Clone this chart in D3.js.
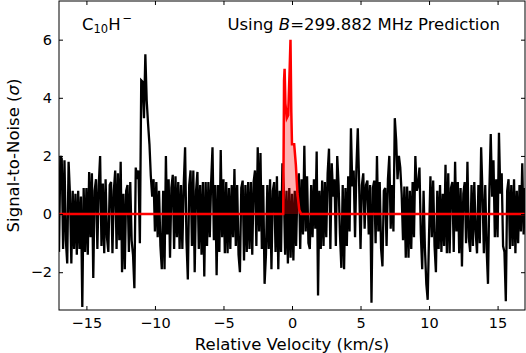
<!DOCTYPE html>
<html>
<head>
<meta charset="utf-8">
<script src="https://cdn.jsdelivr.net/npm/d3@7"></script>
<style>
body { margin: 0; background: #fff; }
text { font-family: "DejaVu Sans", sans-serif; fill: #000; }
</style>
</head>
<body>
<div id="chart"></div>
<script>
// channel grid of the observed spectrum (km/s)
var velStart = -17, velStep = 0.1;
// signal-to-noise per channel
var snr = [
  -1.3, 2.0, 1.9, -1.2, 1.85, -0.9, -1.7, 1.8, 0.7, -1.7,
  0.8, -1.2, 0.7, -1.4, 0.8, -1.2, 0.6, -3.2, 0.9, -1.3,
  0.9, -1.4, 1.45, -0.8, 1.4, -2.2, 0.8, 1.2, -1.2, 1.0,
  2.0, -1.1, 1.05, -1.35, 1.2, -0.8, -1.3, 1.0, 1.1, -1.35,
  0.8, 1.5, -1.2, 1.4, -0.9, 1.8, -2.0, 0.7, -1.9, 0.8,
  1.0, -1.3, 1.1, -0.9, -1.4, -2.55, 1.6, 1.2, 1.5, -1.0,
  4.6, 4.55, 3.3, 5.5, 3.9, 3.1, 2.4, 1.3, 0.6, 1.2,
  -0.6, 1.1, -0.8, 0.8, -1.1, -1.9, 0.8, -1.9, 2.0, -0.7,
  1.2, -1.5, 0.9, 1.35, -1.2, 1.3, -0.8, 1.1, -1.2, 1.0,
  -1.2, 1.0, 2.3, -0.9, -2.25, 1.0, 1.5, -1.1, 1.5, -2.0,
  0.8, 1.45, -1.2, 1.0, -1.4, 1.1, -2.15, 1.1, -1.1, 1.1,
  -0.8, 1.1, 2.3, -0.9, 1.0, -2.1, 1.0, -1.3, 2.2, -0.8,
  1.2, -1.35, 1.1, -1.35, 0.9, -1.2, 1.0, -0.8, 1.55, -1.1,
  1.0, -1.4, -2.0, 0.9, 1.15, -1.6, 1.0, -1.3, 1.1, -1.2,
  1.1, -1.4, 1.1, 1.5, -1.1, 2.3, -0.6, 2.1, -1.2, 1.0,
  -2.4, -1.4, 1.0, -1.2, 1.2, -1.9, 0.8, 1.1, -1.3, 1.3,
  -1.9, 0.8, -1.3, 1.75, 0.9, -1.4, 0.8, -1.7, 0.9, -1.5,
  0.7, -1.6, 0.8, -1.1, 1.0, 1.4, -1.2, 1.2, -0.7, 2.35,
  -0.6, 1.3, -1.0, -1.2, 1.0, -0.8, 1.2, -0.5, 2.15, -2.8,
  0.8, -1.2, 1.15, -1.1, 1.1, -0.8, 1.4, 2.25, -1.2, 1.75,
  0.6, 1.2, -1.1, 2.0, 1.0, -0.7, -1.85, 1.0, -1.9, 0.9,
  -1.1, 1.3, -0.6, 2.95, 0.95, 1.5, -0.8, 1.6, 2.95, 1.0,
  -1.2, 1.0, 1.4, -0.5, 1.0, 1.15, -0.7, 1.0, -3.05, 0.9,
  1.15, -1.0, 2.0, -0.6, 1.1, -1.2, -1.8, 0.8, 0.9, -1.1,
  1.2, 2.0, -0.5, 1.0, -0.6, 3.3, 2.55, 1.2, 2.0, 1.6,
  0.7, -0.9, 0.95, -1.5, 0.95, -1.5, 0.8, -1.2, 1.1, -0.8,
  2.0, 0.8, 1.0, 1.6, -0.7, -1.9, 0.8, -1.2, -2.4, -2.95,
  -0.7, 1.3, -0.8, 1.15, -1.1, -2.0, 0.8, -1.2, 1.0, -1.3,
  0.7, -1.1, 1.7, -1.35, 1.4, -1.35, 0.9, 1.1, -1.3, 1.8,
  -0.6, 1.1, -1.35, 0.9, -1.8, 0.7, 1.1, -1.0, 1.8, -0.8,
  -1.3, 1.0, -1.1, 1.1, -0.6, -1.35, 1.0, -1.0, 2.3, 0.7,
  -1.35, 1.0, -1.2, -2.4, 0.8, 2.75, 0.6, 1.85, -0.8, 1.2,
  -0.8, 2.8, 0.7, 1.4, -1.1, -1.3, -3.0, 0.8, 1.2, -1.2,
  1.0, -1.1, 1.2, -1.35, 0.8, -1.0, 1.0, -0.6, 1.75, -0.7,
  0.9
];
// predicted line profile
var modelVel = [-17, -0.64, -0.58, -0.54, -0.48, -0.38, -0.28, -0.17, -0.11, -0.05, 0.0, 0.16, 0.28, 0.4, 0.53, 0.66, 17];
var modelSnr = [0, 0, 4.6, 5.0, 3.8, 3.3, 3.4, 5.0, 6.0, 3.5, 2.4, 2.4, 1.7, 0.7, 0.15, 0, 0];

var xTicks = [-15, -10, -5, 0, 5, 10, 15];
var yTicks = [-2, 0, 2, 4, 6];

var W = 526, H = 353;
var margin = {top: 1, right: 1, bottom: 43, left: 59};
var width = W - margin.left - margin.right;
var height = H - margin.top - margin.bottom;

var svg = d3.select("#chart").append("svg")
    .attr("width", W)
    .attr("height", H);

var g = svg.append("g")
    .attr("transform", "translate(" + margin.left + "," + margin.top + ")");

var x = d3.scaleLinear().domain([-17, 17]).range([0, width]);
var y = d3.scaleLinear().domain([-3.3, 7.33]).range([height, 0]);

g.append("clipPath").attr("id", "clip")
    .append("rect").attr("width", width).attr("height", height);

var plot = g.append("g").attr("clip-path", "url(#clip)");

var spec = snr.map(function(d, i) { return {v: velStart + i * velStep, s: d}; });
var model = modelVel.map(function(d, i) { return {v: d, s: modelSnr[i]}; });

plot.append("path")
    .datum(spec)
    .attr("fill", "none")
    .attr("stroke", "#000")
    .attr("stroke-width", 2.3)
    .attr("stroke-linejoin", "miter")
    .attr("d", d3.line()
        .x(function(d) { return x(d.v); })
        .y(function(d) { return y(d.s); }));

plot.append("path")
    .datum(model)
    .attr("fill", "red")
    .attr("fill-opacity", 0.3)
    .attr("d", d3.area()
        .x(function(d) { return x(d.v); })
        .y0(y(0))
        .y1(function(d) { return y(d.s); }));

plot.append("path")
    .datum(model)
    .attr("fill", "none")
    .attr("stroke", "red")
    .attr("stroke-width", 2.5)
    .attr("d", d3.line()
        .x(function(d) { return x(d.v); })
        .y(function(d) { return y(d.s); }));

// axes, ticks inward on all sides
var tickLen = 4;
g.append("g")
    .attr("transform", "translate(0," + height + ")")
    .call(d3.axisBottom(x).tickValues(xTicks).tickSizeInner(-tickLen).tickSizeOuter(0)
        .tickPadding(8).tickFormat(d3.format("")))
    .call(function(a) { a.select(".domain").remove(); })
    .selectAll("text").attr("font-size", 14.5);

g.append("g")
    .call(d3.axisTop(x).tickValues(xTicks).tickSizeInner(-tickLen).tickSizeOuter(0).tickFormat(""))
    .call(function(a) { a.select(".domain").remove(); });

g.append("g")
    .call(d3.axisLeft(y).tickValues(yTicks).tickSizeInner(-tickLen).tickSizeOuter(0)
        .tickPadding(7).tickFormat(d3.format("")))
    .call(function(a) { a.select(".domain").remove(); })
    .selectAll("text").attr("font-size", 14.5);

g.append("g")
    .attr("transform", "translate(" + width + ",0)")
    .call(d3.axisRight(y).tickValues(yTicks).tickSizeInner(-tickLen).tickSizeOuter(0).tickFormat(""))
    .call(function(a) { a.select(".domain").remove(); });

g.selectAll(".tick line").attr("stroke", "#000").attr("stroke-width", 1);
g.selectAll(".tick text").attr("font-family", "DejaVu Sans").attr("fill", "#000");

g.append("rect")
    .attr("width", width).attr("height", height)
    .attr("fill", "none").attr("stroke", "#000").attr("stroke-width", 1);

// axis labels
svg.append("text")
    .attr("x", margin.left + width / 2).attr("y", 350)
    .attr("text-anchor", "middle")
    .attr("font-size", 16.5)
    .text("Relative Velocity (km/s)");

var yl = svg.append("text")
    .attr("transform", "translate(18.5," + (margin.top + height / 2) + ") rotate(-90)")
    .attr("text-anchor", "middle")
    .attr("font-size", 16.5);
yl.append("tspan").text("Signal-to-Noise (");
yl.append("tspan").attr("font-style", "italic").text("σ");
yl.append("tspan").text(")");

// annotations
var mol = svg.append("text").attr("x", 82).attr("y", 29.5).attr("font-size", 16.5);
mol.append("tspan").text("C");
mol.append("tspan").attr("font-size", 11.5).attr("dy", 3).text("10");
mol.append("tspan").attr("dy", -3).text("H");
mol.append("tspan").attr("font-size", 11.5).attr("dy", -8).attr("dx", 2).text("−");

var note = svg.append("text").attr("x", 500).attr("y", 29.5)
    .attr("text-anchor", "end").attr("font-size", 16.5);
note.append("tspan").text("Using ");
note.append("tspan").attr("font-style", "italic").text("B");
note.append("tspan").text("=299.882 MHz Prediction");
</script>
</body>
</html>
